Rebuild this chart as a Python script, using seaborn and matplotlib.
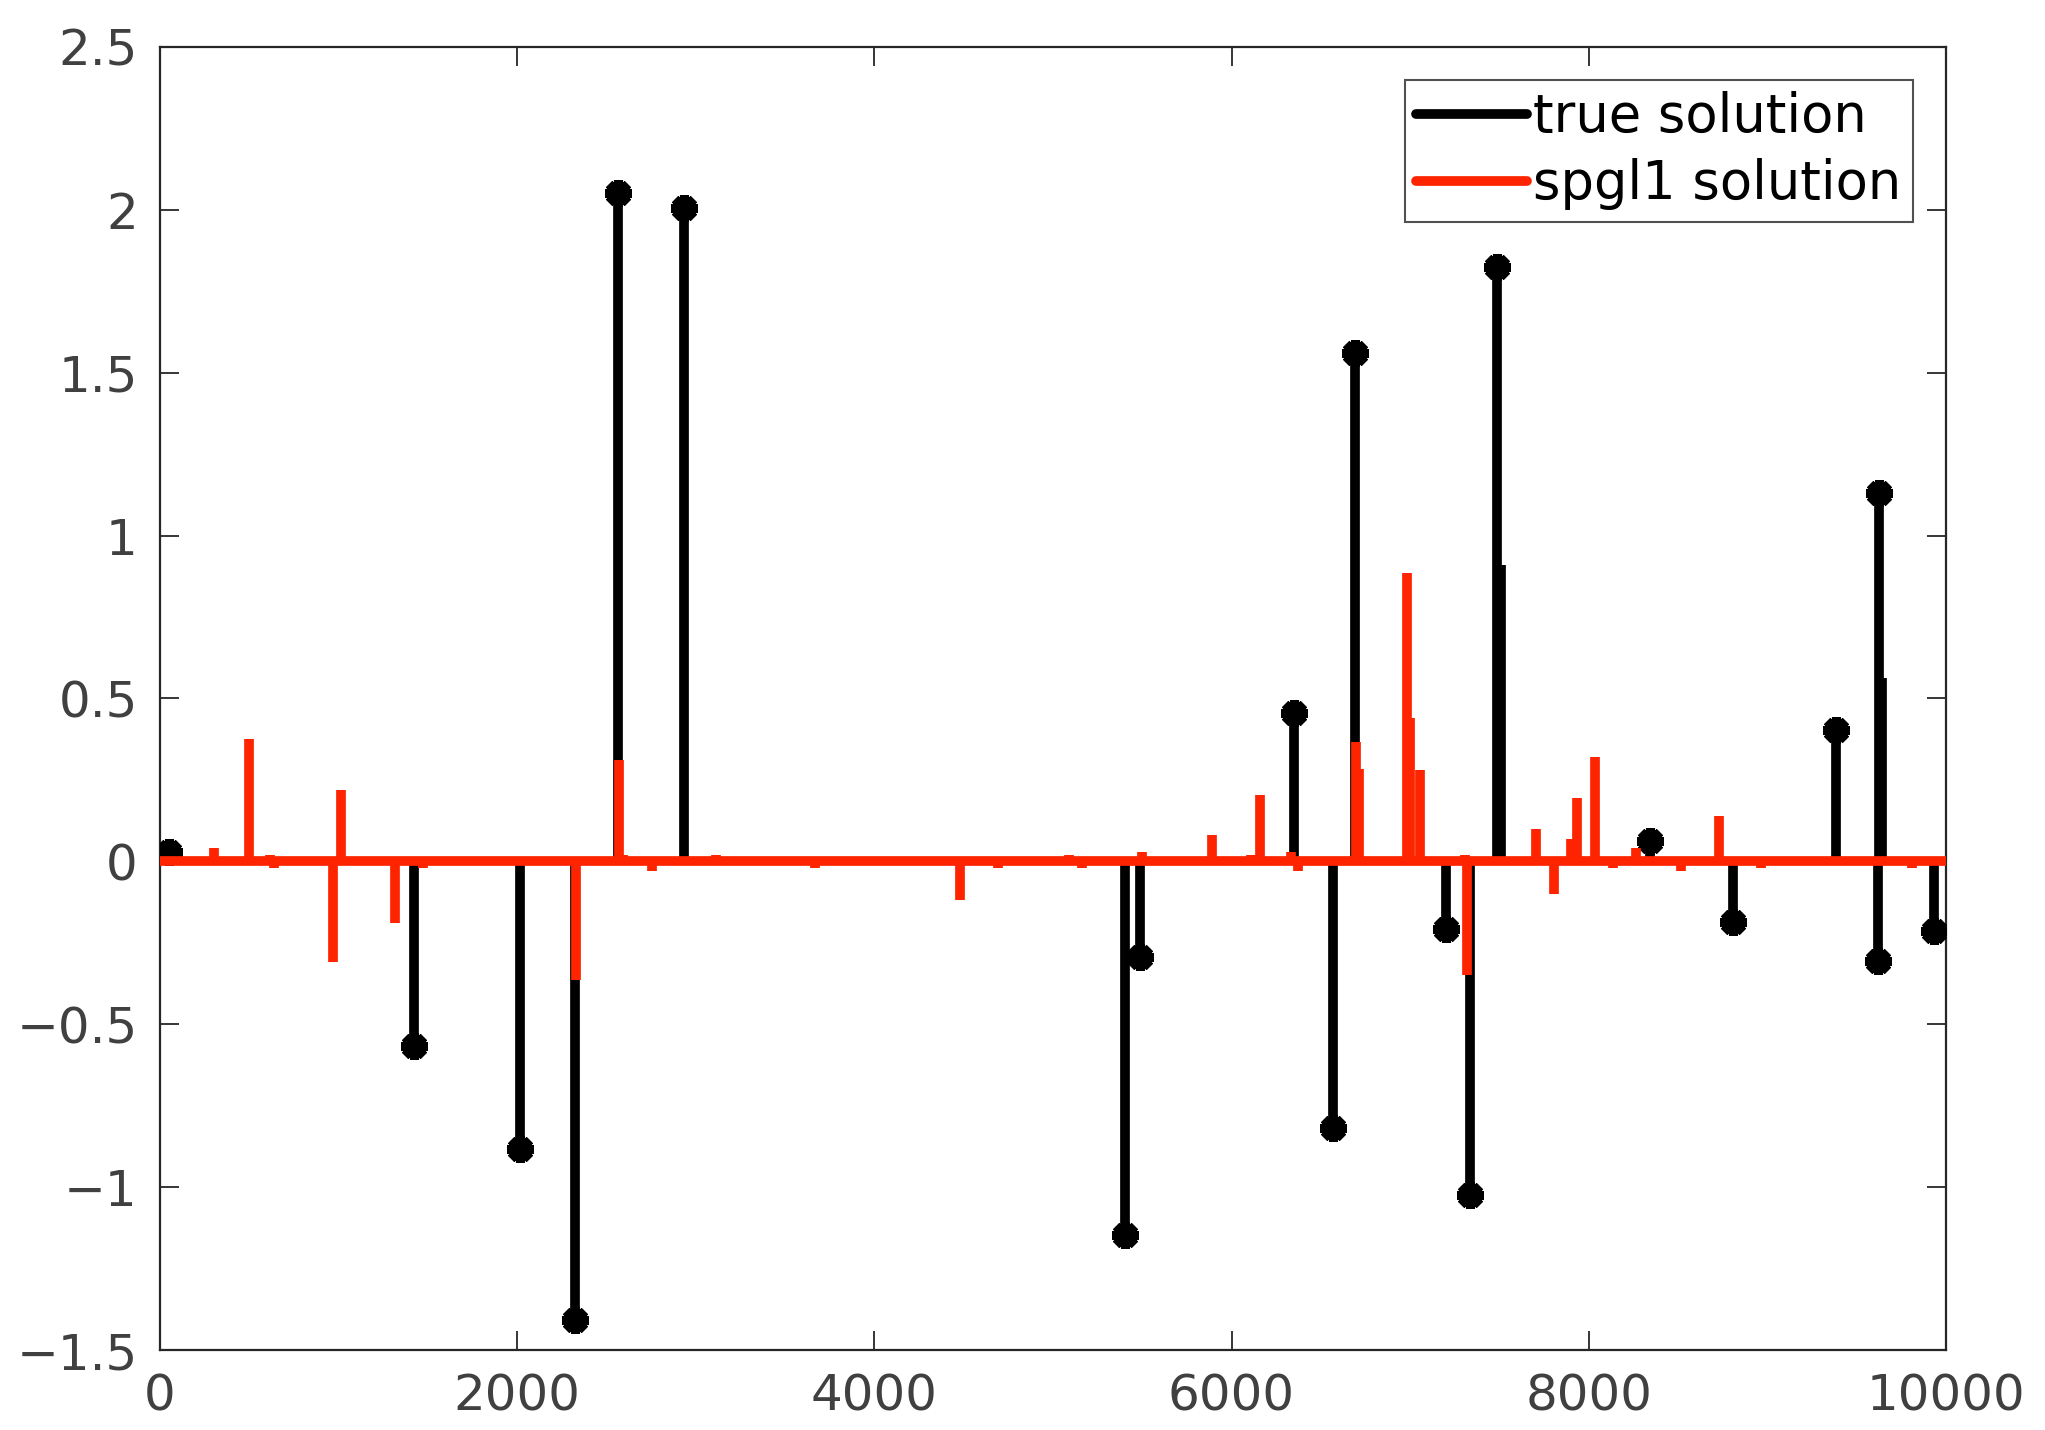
import numpy as np
import pandas as pd
import matplotlib
matplotlib.use("Agg")
import matplotlib.pyplot as plt
from matplotlib.lines import Line2D
import seaborn as sns

# Signal length
n_samples = 10000

# True sparse solution: support indices and amplitudes
true_idx = [51, 1424, 2016, 2323, 2564, 2936, 5405, 5486, 6348, 6567,
            6691, 7202, 7334, 7489, 8342, 8809, 9386, 9620, 9628, 9934]
true_val = [0.03, -0.567, -0.883, -1.408, 2.051, 2.007, -1.148, -0.294, 0.454, -0.819,
            1.560, -0.207, -1.024, 1.824, 0.062, -0.187, 0.402, -0.307, 1.131, -0.214]

# Neighbouring true-solution entries drawn without tip markers
true_side_idx = [7509, 9642]
true_side_val = [0.91, 0.563]

# spgl1 recovered solution (nonzero entries)
spgl1_idx = [300, 497, 614, 640, 971, 1015, 1040, 1212, 1315, 1475,
             1819, 2294, 2330, 2571, 2590, 2754, 2768, 3112, 3309, 3667,
             3725, 3800, 3850, 4090, 4215, 4478, 4690, 4733, 5091, 5164,
             5332, 5500, 5566, 5888, 6107, 6158, 6333, 6370, 6697, 6714,
             6982, 6998, 7054, 7305, 7319, 7706, 7808, 7903, 7933, 8035,
             8138, 8262, 8517, 8729, 8963, 9299, 9584, 9810]
spgl1_val = [0.04, 0.375, 0.02, -0.02, -0.31, 0.22, 0.01, 0.01, -0.19, -0.02,
             0.01, 0.01, -0.365, 0.31, 0.02, -0.03, 0.01, 0.02, 0.01, -0.02,
             0.01, 0.01, 0.01, 0.01, 0.01, -0.12, -0.02, 0.01, 0.02, -0.02,
             0.01, 0.03, 0.01, 0.08, 0.02, 0.205, 0.03, -0.03, 0.365, 0.285,
             0.885, 0.44, 0.28, 0.02, -0.35, 0.10, -0.10, 0.07, 0.195, 0.32,
             -0.02, 0.04, -0.03, 0.14, -0.02, 0.01, 0.01, -0.02]

legend_labels = ["true solution", "spgl1 solution"]
x_ticks = [0, 2000, 4000, 6000, 8000, 10000]
x_tick_labels = ["0", "2000", "4000", "6000", "8000", "10000"]
y_ticks = [-1.5, -1, -0.5, 0, 0.5, 1, 1.5, 2, 2.5]
y_tick_labels = ["\u22121.5", "\u22121", "\u22120.5", "0", "0.5", "1", "1.5", "2", "2.5"]

RED = "#ff2400"
AX_COL = "#262626"
TXT_COL = "#404040"

sns.set_theme(style="ticks")
plt.rcParams["font.family"] = ["DejaVu Sans"]

true_df = pd.DataFrame({"idx": true_idx, "val": true_val})
spgl1_df = pd.DataFrame({"idx": spgl1_idx, "val": spgl1_val})

fig = plt.figure(figsize=(20.45, 14.30), dpi=100)
ax = fig.add_axes([0.07824, 0.05594, 0.8733, 0.9112])

# true solution stems with tip markers
ax.vlines(true_df["idx"], 0, true_df["val"], color="black", lw=7, zorder=2)
ax.vlines(true_side_idx, 0, true_side_val, color="black", lw=7, zorder=2)
ax.plot(true_df["idx"], true_df["val"], linestyle="none", marker=(8, 2, 0),
        ms=19, mew=6.5, color="black", zorder=3)

# spgl1 stems and baseline
ax.hlines(0, 1, n_samples, color=RED, lw=7, zorder=4, clip_on=False)
ax.vlines(spgl1_df["idx"], 0, spgl1_df["val"], color=RED, lw=7, zorder=4)

ax.set_xlim(0, 10000)
ax.set_ylim(-1.5, 2.5)
ax.set_xticks(x_ticks)
ax.set_xticklabels(x_tick_labels)
ax.set_yticks(y_ticks)
ax.set_yticklabels(y_tick_labels)

for side in ["left", "right", "top", "bottom"]:
    ax.spines[side].set_visible(True)
    ax.spines[side].set_color(AX_COL)
    ax.spines[side].set_linewidth(1.6)

ax.tick_params(axis="both", direction="in", length=14, width=1.3, color=AX_COL,
               labelsize=36, labelcolor=TXT_COL, top=True, right=True)
ax.tick_params(axis="x", pad=16)
ax.tick_params(axis="y", pad=16)

handles = [Line2D([], [], color="black", lw=7), Line2D([], [], color=RED, lw=7)]
leg = ax.legend(handles, legend_labels, loc="upper right", fontsize=38,
                frameon=True, fancybox=False, handlelength=2.1, handletextpad=0.12,
                borderpad=0.22, labelspacing=0.28, borderaxespad=0.62)
leg.get_frame().set_edgecolor(AX_COL)
leg.get_frame().set_linewidth(1.5)
for t in leg.get_texts():
    t.set_color("black")

fig.savefig("out.png", dpi=100, facecolor="white")
